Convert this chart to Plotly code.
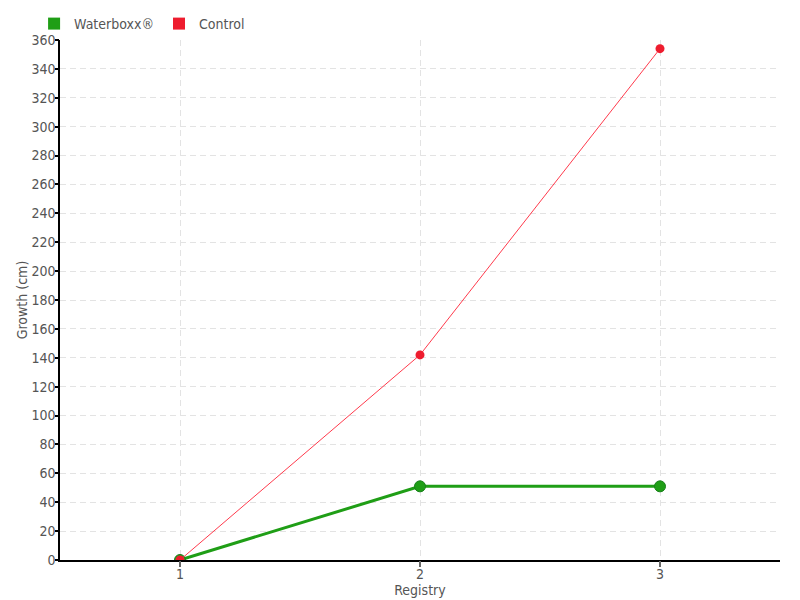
import plotly.graph_objects as go

registry = [1, 2, 3]
waterboxx = [0, 51, 51]
control = [0, 142, 354]
y_ticks = list(range(0, 361, 20))

FONT = "Liberation Sans Narrow, DejaVu Sans Condensed, sans-serif"
GREEN = "#1f9e16"
RED = "#ee1c2e"
TXT = "#555555"
GRID = "#e3e3e3"

fig = go.Figure()
fig.add_trace(go.Scatter(
    x=registry, y=waterboxx, mode="lines+markers", name="Waterboxx®",
    line=dict(color=GREEN, width=3),
    marker=dict(size=11, color=GREEN, line=dict(color="#17801a", width=1)),
    showlegend=False))
fig.add_trace(go.Scatter(
    x=registry, y=control, mode="lines+markers", name="Control",
    line=dict(color="#ff3a4c", width=1),
    marker=dict(size=9, color=RED),
    showlegend=False))
# legend entries with square symbols
fig.add_trace(go.Scatter(x=[None], y=[None], mode="markers", name="Waterboxx®",
                         marker=dict(symbol="square", size=6, color=GREEN)))
fig.add_trace(go.Scatter(x=[None], y=[None], mode="markers", name="Control",
                         marker=dict(symbol="square", size=6, color=RED)))

# page body has an 8px margin, so the figure is 792x592 placed at (8, 8)
fig.update_layout(
    width=792, height=592,
    margin=dict(l=52, r=20, t=32, b=40, autoexpand=False),
    plot_bgcolor="white", paper_bgcolor="white",
    font=dict(family=FONT, size=14, color=TXT),
    legend=dict(orientation="h", x=-0.036, y=1.0, xanchor="left", yanchor="bottom",
                font=dict(size=14, color=TXT), itemwidth=30,
                tracegroupgap=0, bgcolor="rgba(0,0,0,0)", itemsizing="constant"),
    xaxis=dict(
        range=[0.5, 3.5], tickvals=registry, ticktext=[str(v) for v in registry],
        showline=True, linecolor="black", linewidth=1.5,
        ticks="",
        showgrid=True, gridcolor=GRID, griddash="6px,4px", gridwidth=1,
        zeroline=False, automargin=False,
        title=dict(text="Registry", standoff=0, font=dict(size=14, color=TXT)),
        tickfont=dict(size=14, color=TXT)),
    yaxis=dict(
        range=[0, 360], tickvals=y_ticks,
        showline=True, linecolor="black", linewidth=1.5,
        ticks="",
        showgrid=True, gridcolor=GRID, griddash="6px,4px", gridwidth=1,
        zeroline=False, automargin=False,
        title=dict(text="Growth (cm)", standoff=1, font=dict(size=14, color=TXT)),
        tickfont=dict(size=14, color=TXT)),
    # tick-mark-only overlay axes
    xaxis2=dict(overlaying="x", matches="x", tickvals=registry, showticklabels=False,
                ticks="outside", ticklen=6, tickwidth=1.5, tickcolor="#666666", showgrid=False,
                zeroline=False, showline=False, anchor="y", side="bottom"),
    yaxis2=dict(overlaying="y", matches="y", tickvals=y_ticks, showticklabels=False,
                ticks="outside", ticklen=4, tickwidth=1.5, tickcolor="black", showgrid=False,
                zeroline=False, showline=False, anchor="x", side="left"),
)
# invisible trace to activate the overlay axes
fig.add_trace(go.Scatter(x=[None], y=[None], xaxis="x2", yaxis="y2",
                         showlegend=False, hoverinfo="skip"))

fig.write_html("out.html")
